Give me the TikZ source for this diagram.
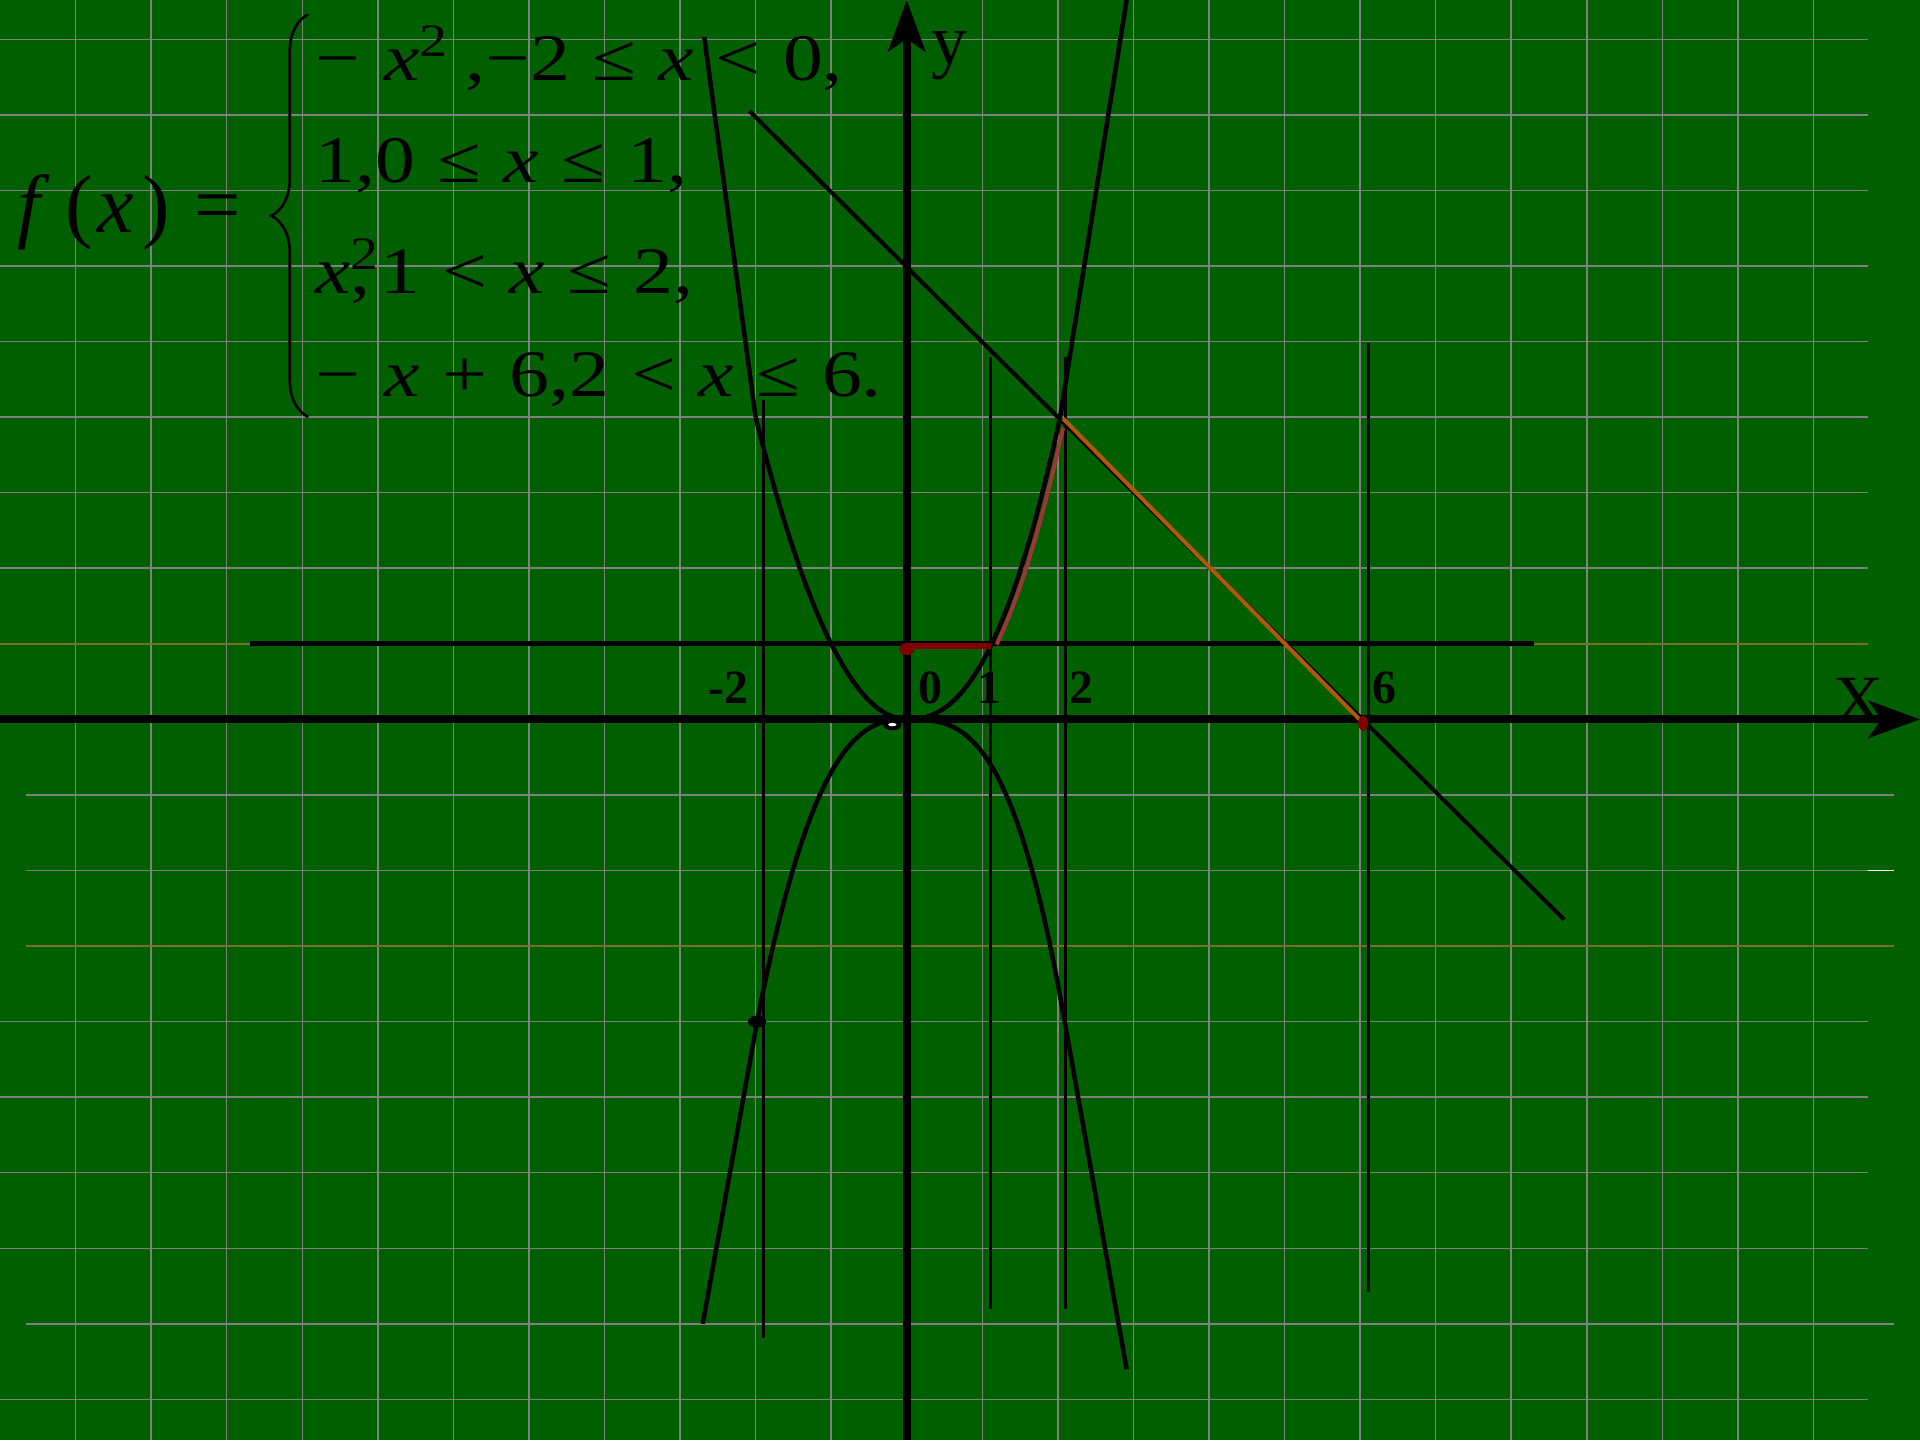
\documentclass[tikz,border=0pt]{standalone}
\usepackage{fontspec}
\setmainfont{Liberation Serif}
\usetikzlibrary{arrows.meta,decorations.pathreplacing}
\definecolor{bg}{RGB}{0,96,0}
\definecolor{gridgray}{RGB}{128,128,128}
\definecolor{gridolive}{RGB}{120,112,40}
\definecolor{darkred}{RGB}{128,0,0}
\definecolor{rose}{RGB}{155,55,55}
\definecolor{rust}{RGB}{178,88,8}
\newcommand{\rel}[1]{\hspace{.28em}#1\hspace{.28em}}
\newcommand{\wide}[1]{\scalebox{1.2}[1]{#1}}

\begin{document}
\begin{tikzpicture}[x=1cm,y=1cm]
 \tikzstyle{grd} = [gridgray, line width=.55pt]
 \tikzstyle{ax} = [line width=3pt, -{Stealth[length=6.8mm,width=4.9mm,inset=1.7mm]}]
 \tikzstyle{crv} = [line width=1.7pt]
 \tikzstyle{vl} = [line width=1.1pt]
 \tikzstyle{tk} = [font=\fontsize{18}{18}\selectfont\bfseries, anchor=base, inner sep=0pt]
 \tikzstyle{fm} = [font=\fontsize{25}{25}\selectfont, anchor=base west, inner sep=0pt]
 %%
 \fill[bg] (-12,-9.54) rectangle (13.41,9.52);
 \useasboundingbox (-12,-9.54) rectangle (13.41,9.52);
 %% grid
 \foreach \i in {-11,...,12} \draw[grd] (\i,-9.54) -- (\i,9.52);
 \foreach \j in {9,8,...,2,0,-4,-5,-6,-7,-9} \draw[grd] (-12,\j) -- (12.72,\j);
 \foreach \j in {-1,-2,-8} \draw[grd] (-11.66,\j) -- (13.06,\j);
 \draw[grd,gridolive] (-12,1) -- (12.72,1);
 \draw[grd,gridolive] (-11.66,-3) -- (13.06,-3);
 \draw[grd,white] (12.72,-2) -- (13.06,-2);
 %% points
 \coordinate (ul) at (-2,4);
 \coordinate (ur) at (2.03,4);
 \coordinate (ut) at (-2.68,9.03);
 \coordinate (urt) at (2.91,9.52);
 \coordinate (dl) at (-1.98,-4);
 \coordinate (dr) at (2.09,-4);
 \coordinate (dlb) at (-2.70,-8.0);
 \coordinate (drb) at (2.91,-8.60);
 \coordinate (la) at (-2.08,8.05);
 \coordinate (lb) at (8.70,-2.65);
 \coordinate (p2) at (2.07,3.98);
 \coordinate (p6) at (6.04,-0.05);
 \coordinate (h0) at (0,0.97);
 \coordinate (h1) at (1.12,0.97);
 %% level line and verticals
 \draw[line width=2pt] (-8.69,1) -- (8.30,1);
 \draw[vl] (-1.90,4.23) -- (-1.90,-8.19);
 \draw[vl] (1.103,4.79) -- (1.103,-7.80);
 \draw[vl] (2.104,4.79) -- (2.104,-7.80);
 \draw[vl] (6.11,4.98) -- (6.11,-7.58);
 %% parabolas
 \draw[crv] plot[domain=0:2, samples=50] ({-\x},{\x*\x});
 \draw[crv] plot[domain=0:2.03, samples=50] ({\x},{4*pow(\x/2.03,2.35)});
 \draw[crv] plot[domain=0:1.98, samples=50] ({-\x},{-4*pow(\x/1.98,2.55)});
 \draw[crv] plot[domain=0:2.09, samples=50] ({\x},{-4*pow(\x/2.09,3)});
 \draw[crv] (ul) -- (ut);
 \draw[crv] (ur) -- (urt);
 \draw[crv] (dl) -- (dlb);
 \draw[crv] (dr) -- (drb);
 %% line -x+6
 \draw[line width=1.5pt] (la) -- (lb);
 %% axes
 \draw[ax] (-12,0) -- (13.41,0);
 \draw[ax] (0,-9.54) -- (0,9.52);
 %% graph of f
 \draw[darkred, line width=2.2pt] (h0) -- (h1);
 \fill[darkred] (0,0.93) ellipse (.1 and .08);
 \draw[rose, line width=1.5pt] plot[domain=1.12:2, samples=30] ({\x+0.07},{4*pow(\x/2.03,2.35)});
 \draw[rust, line width=1.5pt] (p2) -- (p6);
 \fill[darkred] (p6) ellipse (.066 and .1);
 \fill (dl) ellipse (.12 and .08);
 \fill (-0.19,-0.07) ellipse (.12 and .075);
 \fill[white] (-0.19,-0.07) ellipse (.055 and .022);
 %% labels
 \node[tk] (tm2) at (-2.36,0.21) {-2};
 \node[tk] (t0) at (0.31,0.21) {0};
 \node[tk] (t1) at (1.1,0.21) {1};
 \node[tk] (t2) at (2.31,0.21) {2};
 \node[tk] (t6) at (6.32,0.21) {6};
 \node[font=\fontsize{26}{26}\selectfont, anchor=base, inner sep=0pt] (xl) at (12.59,-0.05) {X};
 \node[font=\fontsize{27}{27}\selectfont, anchor=base, inner sep=0pt] (yl) at (0.57,8.67) {y};
 %% formula
 \node[font=\fontsize{31}{31}\selectfont, anchor=base west, inner sep=0pt] (fx) at (-11.78,6.44) {\textit{f}\hspace{.2em}(\hspace{.05em}\textit{x}\hspace{.1em})\hspace{.3em}=};
 \draw[line width=1pt, decorate, decoration={brace, amplitude=4.9mm}] (-7.92,4.0) -- (-7.92,9.33);
 \node[fm] (l1) at (-7.83,8.46) {\wide{−\hspace{.3em}\textit{x}\textsuperscript{2}\hspace{.2em},−2\rel{≤}\textit{x}\rel{<}0,}};
 \node[fm] (l2) at (-7.83,7.10) {\wide{1,0\rel{≤}\textit{x}\rel{≤}1,}};
 \node[fm] (l3) at (-7.83,5.63) {\wide{\textit{x}\rlap{,}\textsuperscript{2}1\rel{<}\textit{x}\rel{≤}2,}};
 \node[fm] (l4) at (-7.83,4.27) {\wide{−\hspace{.3em}\textit{x}\rel{+}6,2\rel{<}\textit{x}\rel{≤}6.}};
\end{tikzpicture}
\end{document}
